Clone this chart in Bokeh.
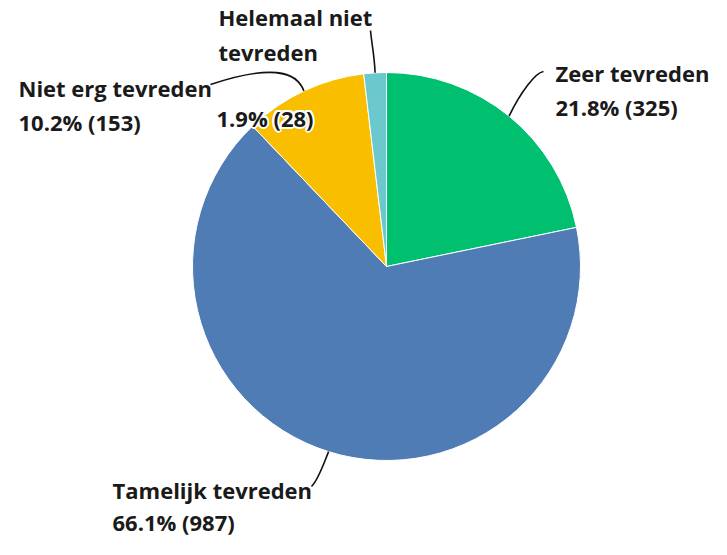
import math
from bokeh.plotting import figure
from bokeh.models import ColumnDataSource, Range1d
from bokeh.core.properties import value
from bokeh.embed import file_html
from bokeh.resources import INLINE

# ---- data ----
categories = ["Zeer tevreden", "Tamelijk tevreden", "Niet erg tevreden", "Helemaal niet tevreden"]
counts = [325, 987, 153, 28]
percent_labels = ["21.8% (325)", "66.1% (987)", "10.2% (153)", "1.9% (28)"]
colors = ["#00BF6F", "#507CB6", "#F9BE00", "#6BC8CD"]

# ---- layout (pixel coords measured from the top-left of the plot) ----
W, H = 711, 539
def Y(img_y):
    return H - img_y

CX, CY, R = 386, Y(266), 194

total = float(sum(counts))
starts, ends, mids = [], [], []
cum = 0
for c in counts:
    a0 = math.pi / 2 - 2 * math.pi * cum / total
    cum += c
    a1 = math.pi / 2 - 2 * math.pi * cum / total
    starts.append(a0)
    ends.append(a1)
    mids.append((a0 + a1) / 2)

src = ColumnDataSource(dict(cat=categories, start=starts, end=ends, color=colors,
                            x=[CX] * len(counts), y=[CY] * len(counts)))

p = figure(width=W, height=H, output_backend="svg", toolbar_location=None,
           x_range=Range1d(0, W), y_range=Range1d(0, H),
           min_border=0, min_border_left=0, min_border_right=0,
           min_border_top=0, min_border_bottom=0)
p.axis.visible = False
p.grid.visible = False
p.outline_line_color = None
p.background_fill_color = "white"
p.border_fill_color = "white"

p.wedge(x="x", y="y", radius=R, start_angle="start", end_angle="end",
        direction="clock", fill_color="color", line_color="white", line_width=1,
        source=src)

# ---- leader lines: start on the rim at each slice's middle angle ----
leaders = [
    ((543, 71), (520, 92), (535, 72)),    # Zeer
    ((311, 486), (322, 466), (318, 479)),  # Tamelijk
    ((210, 84), (296, 70), (270, 64)),     # Niet erg
    ((370, 30), (374, 55), (371, 42)),     # Helemaal
]
for m, (end, c0, c1) in zip(mids, leaders):
    sx = CX + R * math.cos(m)
    sy = CY + R * math.sin(m)
    p.bezier(x0=[sx], y0=[sy], x1=[end[0]], y1=[Y(end[1])],
             cx0=[c0[0]], cy0=[Y(c0[1])], cx1=[c1[0]], cy1=[Y(c1[1])],
             line_color="#111111", line_width=1.6)

FONT = value("Open Sans")
FS = "22px"
TXT = "#1a1a1a"
BASE_SHIFT = 11  # renderer draws text this much below the requested baseline

def label(x, y, s, halo=False):
    yy = Y(y - BASE_SHIFT)
    if halo:
        for dx, dy in [(-2, 0), (2, 0), (0, -2), (0, 2), (-1.5, -1.5), (1.5, 1.5), (-1.5, 1.5), (1.5, -1.5)]:
            p.text(x=[x + dx], y=[yy + dy], text=[s], text_font=FONT, text_font_size=FS,
                   text_font_style="bold", text_color="white", text_baseline="alphabetic",
                   text_align="left")
    p.text(x=[x], y=[yy], text=[s], text_font=FONT, text_font_size=FS,
           text_font_style="bold", text_color=TXT, text_baseline="alphabetic", text_align="left")

label(555, 83, "Zeer tevreden")
label(555, 117, percent_labels[0])
label(112, 500, "Tamelijk tevreden")
label(112, 532, percent_labels[1])
label(18, 98, "Niet erg tevreden")
label(18, 132, percent_labels[2])
label(218, 27, "Helemaal niet")
label(218, 62, "tevreden")
label(216, 128, percent_labels[3], halo=True)

open("out.html", "w").write(file_html(p, INLINE))
